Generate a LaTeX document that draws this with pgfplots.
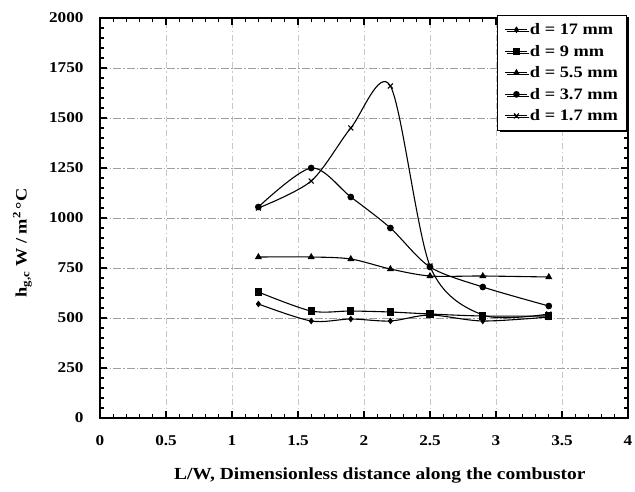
\documentclass[border=0pt]{standalone}
\usepackage{fontspec}
\setmainfont{Liberation Serif}[FakeStretch=1.15]
\usepackage{pgfplots}
\pgfplotsset{compat=1.18}
\usetikzlibrary{shadows}

\begin{document}
\begin{tikzpicture}
\begin{axis}[
    scale only axis,
    width=528bp, height=400bp,
    xmin=0, xmax=4, ymin=0, ymax=2000,
    xtick={0,0.5,...,4}, ytick={0,250,...,2000},
    xticklabels={0,0.5,1,1.5,2,2.5,3,3.5,4},
    minor x tick num=4, minor y tick num=4,
    tick align=inside,
    major tick length=7bp, minor tick length=4bp,
    tick style={black, line width=1.3pt},
    axis line style={line width=1.6pt},
    xmajorgrids, ymajorgrids,
    y grid style={gray!75, line width=0.7pt, dash pattern=on 8pt off 2pt on 1.5pt off 2pt},
    x grid style={gray!45, line width=0.7pt, dash pattern=on 6pt off 3pt on 1.5pt off 3pt},
    /pgf/number format/assume math mode=true,
    ticklabel style={font=\fontsize{15}{15}\selectfont\bfseries},
    yticklabel style={xshift=-13bp},
    xticklabel style={yshift=-14bp},
    scaled y ticks=false,
    yticklabel={\pgfmathprintnumber[fixed,precision=0,1000 sep={}]{\tick}},
    xlabel={L/W, Dimensionless distance along the combustor},
    ylabel={h\textsubscript{g,c} W / m\textsuperscript{2}\,°C},
    every axis x label/.style={at={(axis description cs:0.53,-0.1425)}, anchor=center,
        font=\fontsize{17}{17}\selectfont\bfseries},
    every axis y label/.style={at={(axis description cs:-0.147,0.4375)}, anchor=center, rotate=90,
        font=\fontsize{16}{16}\selectfont\bfseries},
    legend style={at={(0.9987,1.0075)}, anchor=north east, draw=black, line width=1pt,
        fill=white, drop shadow={shadow xshift=2pt, shadow yshift=-2pt, fill=black, opacity=1},
        font=\fontsize{16}{19}\selectfont\bfseries, row sep=5bp, inner xsep=7bp, inner ysep=6bp},
    legend cell align=left,
    legend image code/.code={\draw[mark repeat=2,mark phase=2] plot coordinates {(0bp,0bp) (11bp,0bp) (22bp,0bp)};},
]
\addplot[black, line width=1.1pt, smooth, mark=diamond*, mark size=2.5pt, mark options={solid, fill=black}] coordinates {
(1.2,570) (1.6,485) (1.9,495) (2.2,485) (2.5,515) (2.9,485) (3.4,505)
}; \addlegendentry{d = 17 mm}
\addplot[black, line width=1.1pt, smooth, mark=square*, mark size=3pt, mark options={solid, fill=black}] coordinates {
(1.2,630) (1.6,535) (1.9,535) (2.2,530) (2.5,520) (2.9,510) (3.4,510)
}; \addlegendentry{d = 9 mm}
\addplot[black, line width=1.1pt, smooth, mark=triangle*, mark size=3pt, mark options={solid, fill=black}] coordinates {
(1.2,805) (1.6,805) (1.9,795) (2.2,745) (2.5,710) (2.9,710) (3.4,705)
}; \addlegendentry{d = 5.5 mm}
\addplot[black, line width=1.1pt, smooth, mark=*, mark size=2.8pt, mark options={solid, fill=black}] coordinates {
(1.2,1055) (1.6,1250) (1.9,1105) (2.2,950) (2.5,755) (2.9,655) (3.4,560)
}; \addlegendentry{d = 3.7 mm}
\addplot[black, line width=1.1pt, smooth, mark=x, mark size=3.5pt, mark options={solid}] coordinates {
(1.2,1050) (1.6,1185) (1.9,1450) (2.2,1660) (2.5,760) (2.9,515) (3.4,520)
}; \addlegendentry{d = 1.7 mm}
\end{axis}
\pgfresetboundingbox
\path[use as bounding box] ([shift={(-100bp,-73bp)}]current axis.south west)
    rectangle ([shift={(7bp,18bp)}]current axis.north east);
\end{tikzpicture}
\end{document}
